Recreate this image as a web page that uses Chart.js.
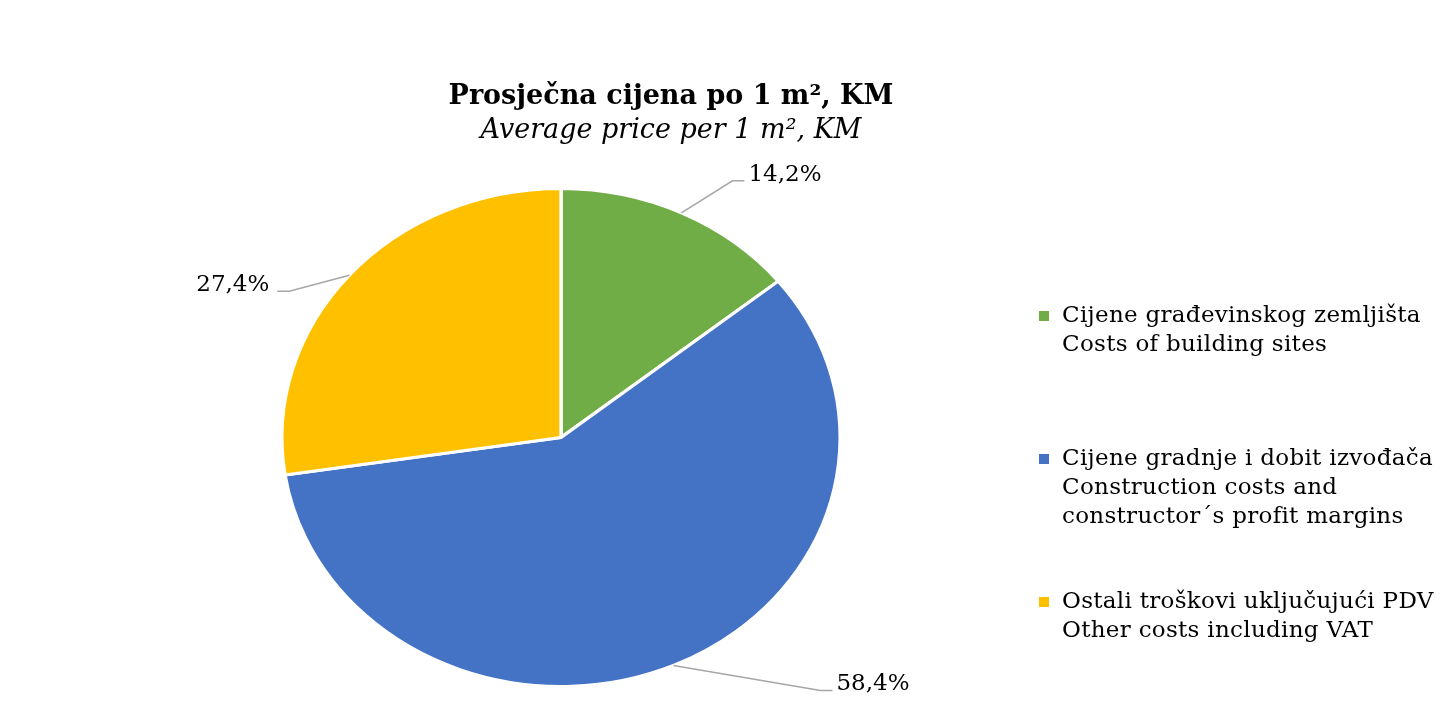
<!DOCTYPE html>
<html>
<head>
<meta charset="utf-8">
<script src="https://cdn.jsdelivr.net/npm/chart.js@4/dist/chart.umd.min.js"></script>
<style>
  html, body { margin: 0; padding: 0; background: #ffffff; }
  #wrap { width: 1442px; height: 722px; position: relative; }
</style>
</head>
<body>
<div id="wrap"><canvas id="c" width="1442" height="722"></canvas></div>
<script>
// ---- data ----
const categoriesBs = ['Cijene građevinskog zemljišta', 'Cijene gradnje i dobit izvođača', 'Ostali troškovi uključujući PDV'];
const categoriesEn = [['Costs of building sites'], ['Construction costs and', 'constructor´s profit margins'], ['Other costs including VAT']];
const shares = [14.2, 58.4, 27.4];
const sliceColors = ['#70AD47', '#4472C4', '#FFC000'];
const titleText = 'Prosječna cijena po 1 m², KM';
const subtitleText = 'Average price per 1 m², KM';

const FONT = '"DejaVu Serif", "Liberation Serif", serif';
const X_STRETCH = 1.121; // reference pie is drawn as an ellipse

function fmt(v) { return v.toFixed(1).replace('.', ',') + '%'; }

const ellipsePlugin = {
  id: 'ellipse',
  beforeDatasetsDraw(chart) {
    const a = chart.getDatasetMeta(0).data[0];
    const ctx = chart.ctx;
    ctx.save();
    ctx.translate(a.x, a.y);
    ctx.scale(X_STRETCH, 1);
    ctx.translate(-a.x, -a.y);
  },
  afterDatasetsDraw(chart) { chart.ctx.restore(); }
};

const labelsPlugin = {
  id: 'leaderLabels',
  afterDraw(chart, args, opts) {
    const ctx = chart.ctx;
    const meta = chart.getDatasetMeta(0);
    const ds = chart.data.datasets[0];
    ctx.save();
    ctx.font = '23px ' + FONT;
    ctx.fillStyle = '#000000';
    ctx.strokeStyle = '#A6A6A6';
    ctx.lineWidth = 1.5;
    meta.data.forEach((arc, i) => {
      const mid = (arc.startAngle + arc.endAngle) / 2;
      const r = arc.outerRadius;
      const ax = arc.x + X_STRETCH * r * Math.cos(mid);
      const ay = arc.y + r * Math.sin(mid);
      const el = opts.elbows[i];
      const ex = ax + el.dx, ey = ay + el.dy;
      const dir = el.dx >= 0 ? 1 : -1;
      const hx = ex + dir * opts.tail;
      ctx.beginPath();
      ctx.moveTo(ax, ay);
      ctx.lineTo(ex, ey);
      ctx.lineTo(hx, ey);
      ctx.stroke();
      ctx.textBaseline = 'middle';
      ctx.textAlign = dir > 0 ? 'left' : 'right';
      ctx.fillText(fmt(ds.data[i]), hx + dir * (dir > 0 ? opts.gap : opts.gap + 4), ey - 6);
    });
    ctx.restore();
  }
};

const titlePlugin = {
  id: 'titles',
  afterDraw(chart, args, opts) {
    const ctx = chart.ctx;
    ctx.save();
    ctx.fillStyle = '#000000';
    ctx.textAlign = 'center';
    ctx.textBaseline = 'middle';
    ctx.font = 'bold 27px ' + FONT;
    ctx.fillText(titleText, opts.cx, opts.y1);
    ctx.font = 'italic 27px ' + FONT;
    ctx.fillText(subtitleText, opts.cx, opts.y2);
    ctx.restore();
  }
};

const legendPlugin = {
  id: 'customLegend',
  afterDraw(chart, args, opts) {
    const ctx = chart.ctx;
    const ds = chart.data.datasets[0];
    ctx.save();
    ctx.font = '23px ' + FONT;
    try { ctx.letterSpacing = '0.3px'; } catch (e) {}
    ctx.textBaseline = 'middle';
    ctx.textAlign = 'left';
    chart.data.labels.forEach((lines, i) => {
      const y = opts.top + i * opts.pitch;
      ctx.fillStyle = ds.backgroundColor[i];
      ctx.fillRect(opts.boxX, y - 5, 10, 10);
      ctx.fillStyle = '#000000';
      lines.forEach((t, j) => ctx.fillText(t, opts.textX, y + j * opts.lineH));
    });
    ctx.restore();
  }
};

new Chart(document.getElementById('c'), {
  type: 'pie',
  data: {
    labels: categoriesBs.map((b, i) => [b].concat(categoriesEn[i])),
    datasets: [{
      data: shares,
      backgroundColor: sliceColors,
      borderColor: '#ffffff',
      borderWidth: 3
    }]
  },
  options: {
    responsive: false,
    animation: false,
    events: [],
    layout: { padding: { top: 187, bottom: 34, left: 0, right: 320 } },
    plugins: {
      legend: { display: false },
      tooltip: { enabled: false },
      titles: { cx: 671, y1: 97, y2: 131 },
      customLegend: { top: 316, pitch: 143, boxX: 1039, textX: 1062, lineH: 29 },
      leaderLabels: {
        elbows: [{ dx: 51, dy: -32 }, { dx: 147, dy: 25 }, { dx: -60, dy: 16 }],
        tail: 12, gap: 4
      }
    }
  },
  plugins: [ellipsePlugin, labelsPlugin, titlePlugin, legendPlugin]
});
</script>
</body>
</html>
